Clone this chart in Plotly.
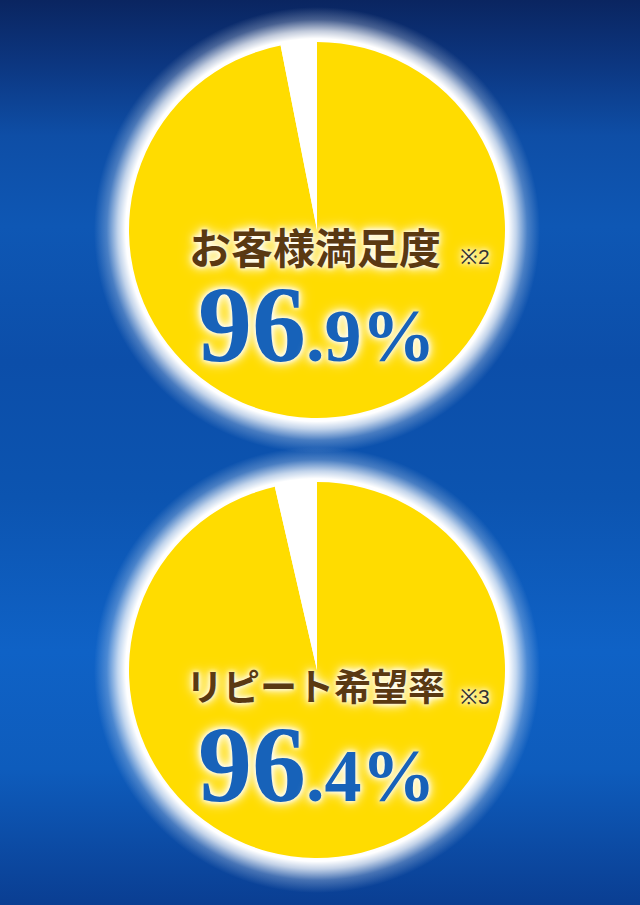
#!/usr/bin/env python3
# -*- coding: utf-8 -*-
"""
Satisfaction / repeat-intent pies on a blue gradient background
"""

import numpy as np
import plotly.graph_objects as go

W, H = 640, 905

# data
titles = ['お客様満足度', 'リピート希望率']
title_sizes = [42, 37]
notes = ['※2', '※3']
slice_labels = ['はい', 'その他']
satisfaction = [96.9, 3.1]
repeat_intent = [96.4, 3.6]
series = [satisfaction, repeat_intent]

# pie geometry in pixels (centre x, centre y, radius)
PIES = [(317, 230, 188), (317, 670, 188)]
GLOW = 35

BG_SCALE = [[0.0, '#0a2560'], [0.07, '#0c3680'], [0.15, '#0e4ea6'], [0.25, '#0e57b4'],
            [0.40, '#0c4ea9'], [0.55, '#0c54b0'], [0.72, '#0f62c6'], [0.85, '#0e5cbc'],
            [1.0, '#0a3e92']]

fig = go.Figure()

# background
fig.add_trace(go.Scatter(x=[0, W, W, 0, 0], y=[0, 0, H, H, 0], mode='lines',
                         line=dict(width=0), fill='toself',
                         fillgradient=dict(type='vertical', colorscale=BG_SCALE, start=0, stop=H),
                         hoverinfo='skip'))

# soft white halo behind each pie
theta = np.linspace(0, 2 * np.pi, 181)
for cx, cy, r in PIES:
    rg = r + GLOW
    edge = r / rg
    fig.add_trace(go.Scatter(x=cx + rg * np.cos(theta), y=cy + rg * np.sin(theta), mode='lines',
                             line=dict(width=0), fill='toself',
                             fillgradient=dict(type='radial', colorscale=[
                                 [0.0, 'rgba(255,255,255,1)'],
                                 [edge + 0.015, 'rgba(255,255,255,1)'],
                                 [edge + 0.05, 'rgba(255,255,255,0.75)'],
                                 [edge + 0.10, 'rgba(255,255,255,0.25)'],
                                 [1.0, 'rgba(255,255,255,0)']]),
                             hoverinfo='skip'))

glow = '0px 0px 4px #fff, 0px 0px 9px #fff, 0px 0px 14px #fff'
for (cx, cy, r), values, title, tsize, note in zip(PIES, series, titles, title_sizes, notes):
    fig.add_trace(go.Pie(labels=slice_labels, values=values, sort=False, direction='clockwise',
                         rotation=0, textinfo='none', hoverinfo='skip',
                         marker=dict(colors=['#FFDC00', '#FFFFFF'], line=dict(width=0)),
                         domain=dict(x=[(cx - r) / W, (cx + r) / W],
                                     y=[1 - (cy + r) / H, 1 - (cy - r) / H])))

    whole, frac = f'{values[0]:.1f}'.split('.')
    fig.add_annotation(x=cx - 2, y=cy + 15, text=title, showarrow=False,
                       font=dict(family='Noto Sans CJK JP', size=tsize, color='#5a3912',
                                 weight='bold', shadow=glow))
    fig.add_annotation(x=cx + 158, y=cy + 26, text=note, showarrow=False,
                       font=dict(family='Liberation Sans', size=21, color='#333333', shadow=glow))
    fig.add_annotation(x=cx, y=cy + 94, showarrow=False,
                       text=f"<span style='font-size:108px'>{whole}</span>"
                            f"<span style='font-size:74px'>.{frac}%</span>",
                       font=dict(family='Liberation Serif', size=74, color='#1762b9',
                                 weight='bold', shadow=glow))

fig.update_layout(width=W, height=H, margin=dict(l=0, r=0, t=0, b=0), showlegend=False,
                  paper_bgcolor='#0d4fa8', plot_bgcolor='#0d4fa8',
                  xaxis=dict(range=[0, W], visible=False, fixedrange=True),
                  yaxis=dict(range=[H, 0], visible=False, fixedrange=True))

fig.write_html("out.html", config={'displayModeBar': False},
               post_script="document.body.style.margin='0';document.body.style.background='#0d4fa8';")
